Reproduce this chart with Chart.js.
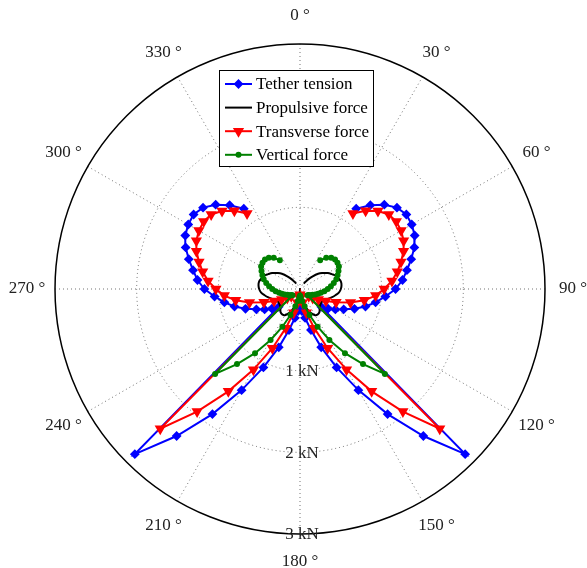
<!DOCTYPE html>
<html>
<head>
<meta charset="utf-8">
<script src="https://cdn.jsdelivr.net/npm/chart.js@4.4.1/dist/chart.umd.min.js"></script>
<style>
    html, body { margin: 0; padding: 0; background: #fff; }
    canvas { display: block; }
</style>
</head>
<body>
<canvas id="polarChart" width="587" height="568"></canvas>
<script>
// Wind angle in degrees (0 at top, clockwise), 5 degree steps
const angles = [35, 40, 45, 50, 55, 60, 65, 70, 75, 80, 85, 90, 95, 100, 105, 110, 115, 120, 125, 130,
    135, 140, 145, 150, 155, 160, 165, 170, 175, 180, 185, 190, 195, 200, 205, 210, 215, 220, 225,
    230, 235, 240, 245, 250, 255, 260, 265, 270, 275, 280, 285, 290, 295, 300, 305, 310, 315, 320, 325];

// Forces in kN
const tetherTension = [1.20, 1.34, 1.46, 1.55, 1.59, 1.58, 1.55, 1.49, 1.41, 1.33, 1.26, 1.17, 1.05, 0.94, 0.83, 0.71, 0.59, 0.50, 0.42, 0.34,
    2.86, 2.35, 1.87, 1.43, 1.06, 0.76, 0.52, 0.36, 0.27, 0.23, 0.27, 0.36, 0.52, 0.76, 1.06, 1.43, 1.87, 2.35, 2.86,
    0.34, 0.42, 0.50, 0.59, 0.71, 0.83, 0.94, 1.05, 1.17, 1.26, 1.33, 1.41, 1.49, 1.55, 1.58, 1.59, 1.55, 1.46, 1.34, 1.20];
const propulsiveForce = [0.08, 0.15, 0.22, 0.29, 0.34, 0.39, 0.43, 0.47, 0.49, 0.51, 0.51, 0.50, 0.48, 0.44, 0.40, 0.36, 0.33, 0.31, 0.31, 0.32,
    0.34, 0.37, 0.38, 0.37, 0.33, 0.27, 0.20, 0.13, 0.06, 0.00, 0.06, 0.13, 0.20, 0.27, 0.33, 0.37, 0.38, 0.37, 0.34,
    0.32, 0.31, 0.31, 0.33, 0.36, 0.40, 0.44, 0.48, 0.50, 0.51, 0.51, 0.49, 0.47, 0.43, 0.39, 0.34, 0.29, 0.22, 0.15, 0.08];
const transverseForce = [1.13, 1.25, 1.35, 1.42, 1.44, 1.43, 1.40, 1.35, 1.28, 1.21, 1.13, 1.03, 0.93, 0.80, 0.64, 0.47, 0.35, 0.26, 0.19, 0.14,
    2.42, 1.96, 1.53, 1.14, 0.80, 0.51, 0.30, 0.17, 0.10, 0.07, 0.10, 0.17, 0.30, 0.51, 0.80, 1.14, 1.53, 1.96, 2.42,
    0.14, 0.19, 0.26, 0.35, 0.47, 0.64, 0.80, 0.93, 1.03, 1.13, 1.21, 1.28, 1.35, 1.40, 1.43, 1.44, 1.42, 1.35, 1.25, 1.13];
const verticalForce = [0.43, 0.50, 0.54, 0.56, 0.56, 0.55, 0.52, 0.49, 0.46, 0.42, 0.38, 0.34, 0.30, 0.26, 0.23, 0.20, 0.17, 0.15, 0.13, 0.12,
    1.47, 1.20, 0.96, 0.72, 0.51, 0.34, 0.22, 0.15, 0.10, 0.08, 0.10, 0.15, 0.22, 0.34, 0.51, 0.72, 0.96, 1.20, 1.47,
    0.12, 0.13, 0.15, 0.17, 0.20, 0.23, 0.26, 0.30, 0.34, 0.38, 0.42, 0.46, 0.49, 0.52, 0.55, 0.56, 0.56, 0.54, 0.50, 0.43];

// Grid ticks
const angleTicks = [0, 30, 60, 90, 120, 150, 180, 210, 240, 270, 300, 330];
const radialTicks = [1, 2, 3];

const FONT = '"Liberation Serif", "Times New Roman", serif';

// Convert (angle, magnitude) into x/y values for the linear scales
function toXY(values) {
    return values.map((r, i) => {
        const a = angles[i] * Math.PI / 180;
        return { x: r * Math.sin(a), y: r * Math.cos(a) };
    });
}

// Polar grid drawn under the data
const polarGrid = {
    id: 'polarGrid',
    beforeDatasetsDraw(chart) {
        const { ctx, scales: { x, y } } = chart;
        const cx = x.getPixelForValue(0);
        const cy = y.getPixelForValue(0);
        const unit = x.getPixelForValue(1) - cx;
        const rMax = radialTicks[radialTicks.length - 1] * unit;

        ctx.save();
        ctx.strokeStyle = 'rgba(0, 0, 0, 0.55)';
        ctx.lineWidth = 1;
        ctx.setLineDash([1, 3]);

        // spokes
        angleTicks.forEach(deg => {
            const a = deg * Math.PI / 180;
            ctx.beginPath();
            ctx.moveTo(cx, cy);
            ctx.lineTo(cx + rMax * Math.sin(a), cy - rMax * Math.cos(a));
            ctx.stroke();
        });

        // inner rings
        radialTicks.slice(0, -1).forEach(r => {
            ctx.beginPath();
            ctx.arc(cx, cy, r * unit, 0, Math.PI * 2);
            ctx.stroke();
        });

        // outer ring
        ctx.setLineDash([]);
        ctx.strokeStyle = '#000';
        ctx.lineWidth = 1.5;
        ctx.beginPath();
        ctx.arc(cx, cy, rMax, 0, Math.PI * 2);
        ctx.stroke();

        // angle labels
        ctx.fillStyle = '#222';
        ctx.font = '17px ' + FONT;
        ctx.textAlign = 'center';
        ctx.textBaseline = 'middle';
        angleTicks.forEach(deg => {
            const a = deg * Math.PI / 180;
            const rl = rMax + 28;
            ctx.fillText(deg + ' \u00b0', cx + rl * Math.sin(a), cy - rl * Math.cos(a));
        });

        // radial labels along 180 deg
        radialTicks.forEach(r => {
            ctx.fillText(r + ' kN', cx + 2, cy + r * unit + 1);
        });
        ctx.restore();
    }
};

// MATLAB style legend box
const legendBox = {
    id: 'legendBox',
    afterDraw(chart) {
        const { ctx } = chart;
        const left = 219, top = 70, w = 154, h = 96;
        const rowH = 23.6;
        ctx.save();
        ctx.fillStyle = '#fff';
        ctx.fillRect(left, top, w, h);
        ctx.strokeStyle = '#000';
        ctx.lineWidth = 1;
        ctx.strokeRect(left + 0.5, top + 0.5, w, h);

        ctx.font = '17px ' + FONT;
        ctx.textAlign = 'left';
        ctx.textBaseline = 'middle';
        chart.data.datasets.forEach((ds, i) => {
            const yy = top + 14 + i * rowH;
            ctx.strokeStyle = ds.borderColor;
            ctx.lineWidth = ds.borderWidth;
            ctx.beginPath();
            ctx.moveTo(left + 6, yy);
            ctx.lineTo(left + 33, yy);
            ctx.stroke();
            if (ds.pointRadius > 0) {
                ctx.fillStyle = ds.pointBackgroundColor;
                ctx.strokeStyle = ds.borderColor;
                Chart.helpers.drawPoint(ctx, {
                    pointStyle: ds.pointStyle,
                    radius: ds.pointRadius,
                    rotation: ds.pointRotation || 0,
                    borderWidth: 1
                }, left + 19.5, yy);
            }
            ctx.fillStyle = '#000';
            ctx.fillText(ds.label, left + 37, yy + 1);
        });
        ctx.restore();
    }
};

const ctx = document.getElementById('polarChart').getContext('2d');
new Chart(ctx, {
    type: 'scatter',
    data: {
        datasets: [{
            label: 'Tether tension',
            data: toXY(tetherTension),
            showLine: true,
            borderColor: '#0000ff',
            backgroundColor: '#0000ff',
            pointBackgroundColor: '#0000ff',
            borderWidth: 2,
            pointStyle: 'rectRot',
            pointRadius: 3.5,
            order: 4
        }, {
            label: 'Propulsive force',
            data: toXY(propulsiveForce),
            showLine: true,
            borderColor: '#000000',
            backgroundColor: '#000000',
            pointBackgroundColor: '#000000',
            borderWidth: 2,
            pointRadius: 0,
            tension: 0.4,
            order: 3
        }, {
            label: 'Transverse force',
            data: toXY(transverseForce),
            showLine: true,
            borderColor: '#ff0000',
            backgroundColor: '#ff0000',
            pointBackgroundColor: '#ff0000',
            borderWidth: 2,
            pointStyle: 'triangle',
            pointRotation: 180,
            pointRadius: 4.5,
            order: 2
        }, {
            label: 'Vertical force',
            data: toXY(verticalForce),
            showLine: true,
            borderColor: '#008000',
            backgroundColor: '#008000',
            pointBackgroundColor: '#008000',
            borderWidth: 2,
            pointStyle: 'circle',
            pointRadius: 2,
            order: 1
        }]
    },
    options: {
        responsive: false,
        animation: false,
        devicePixelRatio: 1,
        layout: {
            padding: { left: 55, right: 42, top: 44, bottom: 34 }
        },
        plugins: {
            legend: { display: false },
            tooltip: { enabled: false }
        },
        scales: {
            x: { type: 'linear', min: -3, max: 3, display: false },
            y: { type: 'linear', min: -3, max: 3, display: false }
        }
    },
    plugins: [polarGrid, legendBox]
});
</script>
</body>
</html>
